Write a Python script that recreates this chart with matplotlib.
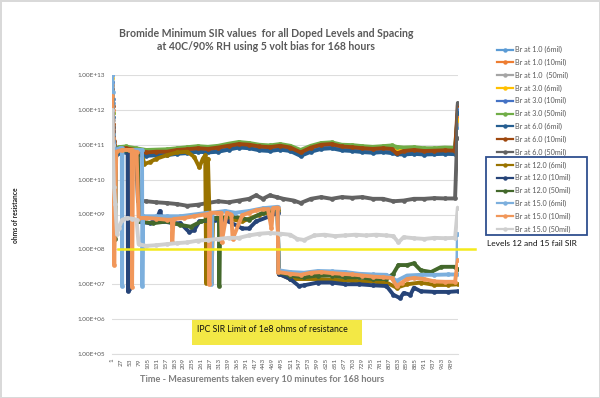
import numpy as np
import matplotlib
matplotlib.use("Agg")
import matplotlib.pyplot as plt
from matplotlib.patches import Rectangle
from matplotlib.lines import Line2D

plt.rcParams['font.family'] = ['Lato', 'DejaVu Sans']

# ---------------- data (log10 of ohms) ----------------
labels = ["Br at 1.0 (6mil)", "Br at 1.0 (10mil)", "Br at 1.0  (50mil)",
          "Br at 3.0 (6mil)", "Br at 3.0 (10mil)", "Br at 3.0 (50mil)",
          "Br at 6.0 (6mil)", "Br at 6.0 (10mil)", "Br at 6.0 (50mil)",
          "Br at 12.0 (6mil)", "Br at 12.0 (10mil)", "Br at 12.0 (50mil)",
          "Br at 15.0 (6mil)", "Br at 15.0 (10mil)", "Br at 15.0 (50mil)"]
colors = ['#5B9BD5', '#ED7D31', '#A5A5A5', '#FFC000', '#4472C4', '#70AD47',
          '#255E91', '#9E480E', '#636363', '#997300', '#264478', '#43682B',
          '#7CAFDD', '#F1975A', '#CFCFCF']

top_meas = [1, 2, 4, 7, 11, 20, 40, 70, 100, 130, 160, 190, 220, 250, 280, 310, 340, 370, 400, 430,
            460, 490, 520, 550, 580, 610, 640, 670, 700, 730, 760, 790, 815, 830, 850, 880, 910, 940,
            970, 1000, 1008]
br1_6 = [13.0, 12.2, 11.2, 10.9, 10.8, 10.82, 10.85, 10.8, 10.75, 10.76, 10.77, 10.8, 10.83, 10.86, 10.84,
         10.88, 10.92, 10.98, 10.96, 10.9, 10.88, 10.92, 10.88, 10.75, 10.88, 10.95, 10.97, 10.9, 10.88,
         10.85, 10.83, 10.85, 10.83, 10.8, 10.8, 10.8, 10.78, 10.79, 10.8, 10.79, 11.5]
br1_10 = [12.7, 12.0, 11.5, 11.0, 10.83, 10.85, 10.88, 10.83, 10.77, 10.78, 10.79, 10.83, 10.85, 10.88, 10.86,
          10.9, 10.95, 11.0, 10.98, 10.92, 10.9, 10.95, 10.9, 10.76, 10.9, 10.97, 11.0, 10.92, 10.9, 10.88,
          10.86, 10.88, 10.86, 10.82, 10.82, 10.83, 10.8, 10.81, 10.82, 10.81, 11.8]
br1_50 = [12.2, 11.7, 11.0, 10.9, 10.82, 10.84, 10.86, 10.82, 10.76, 10.78, 10.78, 10.82, 10.84, 10.87, 10.85,
          10.89, 10.94, 10.99, 10.97, 10.92, 10.9, 10.94, 10.89, 10.76, 10.89, 10.96, 10.99, 10.92, 10.9,
          10.87, 10.85, 10.87, 10.85, 10.82, 10.81, 10.82, 10.8, 10.8, 10.81, 10.8, 11.6]
br3_6 = [12.9, 11.9, 11.0, 10.95, 10.84, 10.86, 10.88, 10.84, 10.77, 10.79, 10.79, 10.84, 10.86, 10.89, 10.87,
         10.91, 10.96, 11.01, 10.99, 10.94, 10.92, 10.96, 10.91, 10.77, 10.91, 10.99, 11.01, 10.94, 10.92,
         10.89, 10.87, 10.89, 10.87, 10.83, 10.82, 10.84, 10.81, 10.82, 10.83, 10.82, 11.7]
br3_10 = [12.8, 12.3, 11.4, 10.9, 10.78, 10.8, 10.83, 10.78, 10.72, 10.73, 10.74, 10.78, 10.8, 10.84, 10.82,
          10.85, 10.9, 10.96, 10.94, 10.88, 10.86, 10.9, 10.86, 10.72, 10.85, 10.93, 10.95, 10.88, 10.86,
          10.83, 10.81, 10.83, 10.8, 10.76, 10.76, 10.77, 10.75, 10.76, 10.77, 10.76, 12.0]
br3_50 = [12.4, 11.9, 11.3, 10.95, 10.9, 10.93, 10.95, 10.9, 10.85, 10.86, 10.87, 10.9, 10.93, 10.96, 10.94,
          10.97, 11.03, 11.08, 11.05, 11.0, 10.98, 11.02, 10.97, 10.85, 10.97, 11.05, 11.07, 11.0, 10.99,
          10.96, 10.94, 10.96, 10.98, 10.94, 10.92, 10.93, 10.9, 10.9, 10.92, 10.91, 11.9]
br6_6 = [12.5, 11.8, 11.0, 10.8, 10.72, 10.75, 10.78, 10.73, 10.68, 10.7, 10.7, 10.74, 10.76, 10.8, 10.78,
         10.8, 10.86, 10.92, 10.9, 10.84, 10.82, 10.86, 10.82, 10.68, 10.8, 10.88, 10.9, 10.84, 10.82,
         10.79, 10.77, 10.79, 10.76, 10.73, 10.72, 10.74, 10.72, 10.73, 10.74, 10.73, 11.9]
br6_10 = [12.6, 12.1, 11.6, 11.1, 10.85, 10.88, 10.9, 10.85, 10.78, 10.8, 10.8, 10.85, 10.87, 10.9, 10.88,
          10.92, 10.97, 11.02, 11.0, 10.95, 10.93, 10.97, 10.92, 10.78, 10.92, 11.0, 11.02, 10.95, 10.93,
          10.9, 10.88, 10.9, 10.88, 10.75, 10.82, 10.85, 10.82, 10.83, 10.84, 10.83, 12.15]

br6_50_x = [1, 3, 8, 40, 70, 76, 100, 130, 160, 190, 220, 250, 280, 310, 340, 370, 400, 420, 440, 460,
            480, 500, 530, 550, 580, 610, 640, 670, 700, 730, 760, 790, 820, 850, 880, 910, 940, 970,
            1000, 1006, 1008]
br6_50 = [12.3, 11.5, 10.9, 10.85, 10.8, 9.4, 9.38, 9.35, 9.33, 9.3, 9.25, 9.28, 9.33, 9.38, 9.35, 9.4,
          9.45, 9.55, 9.45, 9.55, 9.5, 9.45, 9.4, 9.33, 9.45, 9.5, 9.45, 9.5, 9.48, 9.5, 9.45, 9.45, 9.38,
          9.4, 9.45, 9.45, 9.47, 9.46, 9.46, 11.2, 12.2]

br12_6_x = [1, 3, 8, 60, 85, 95, 110, 130, 160, 190, 220, 240, 255, 265, 272, 275, 280, 290, 295, 330,
            380, 430, 483, 486, 520, 600, 700, 800, 830, 860, 900, 940, 980, 1008]
br12_6 = [12.0, 11.0, 10.85, 10.85, 10.8, 10.45, 10.5, 10.6, 10.7, 10.78, 10.8, 10.65, 10.35, 10.6, 10.7,
          7.05, 10.6, 7.05, 8.9, 8.9, 8.8, 9.0, 9.1, 7.3, 7.15, 7.15, 7.1, 7.05, 6.9, 7.0, 7.05, 6.98,
          6.98, 7.0]

br12_10_x = [1, 3, 5, 12, 40, 46, 47, 50, 52, 75, 80, 110, 130, 140, 150, 180, 200, 225, 240, 255, 300,
             340, 380, 400, 420, 460, 483, 486, 520, 545, 560, 600, 640, 680, 720, 760, 800, 820, 840,
             850, 870, 880, 900, 940, 980, 1008]
br12_10 = [12.2, 10.5, 8.85, 10.8, 10.85, 10.85, 6.8, 6.85, 10.8, 10.8, 8.8, 8.75, 8.85, 9.1, 8.8, 8.75,
           8.75, 8.5, 8.55, 8.8, 8.85, 8.8, 8.6, 8.6, 8.8, 8.95, 9.05, 7.3, 7.15, 6.95, 6.97, 7.05, 7.05,
           7.0, 7.0, 6.97, 6.95, 6.7, 6.6, 6.75, 6.7, 6.9, 6.8, 6.78, 6.78, 6.8]

br12_50_x = [1, 3, 5, 10, 12, 60, 75, 80, 120, 160, 200, 230, 260, 300, 312, 313, 316, 350, 400, 440,
             483, 486, 520, 560, 600, 640, 680, 720, 760, 800, 820, 835, 860, 880, 900, 930, 960, 1000, 1008]
br12_50 = [12.3, 9.5, 8.85, 8.3, 10.8, 10.85, 10.8, 8.8, 8.75, 8.8, 8.7, 8.65, 8.8, 8.9, 8.9, 6.95, 8.9,
           8.95, 8.85, 9.05, 9.15, 7.35, 7.25, 7.2, 7.25, 7.25, 7.2, 7.2, 7.15, 7.15, 7.3, 7.55, 7.55,
           7.6, 7.4, 7.35, 7.5, 7.5, 7.45]

br15_6_x = [1, 2, 4, 8, 25, 29, 30, 31, 60, 88, 89, 91, 130, 160, 200, 240, 280, 289, 290, 293, 330,
            360, 400, 440, 483, 486, 520, 560, 600, 640, 680, 720, 760, 800, 830, 860, 900, 940, 980,
            1006, 1008]
br15_6 = [13.0, 12.5, 11.3, 10.85, 10.9, 10.9, 6.95, 10.85, 10.85, 10.85, 6.95, 8.95, 8.95, 8.95, 8.95,
          9.0, 9.05, 9.05, 7.0, 9.05, 9.1, 9.05, 9.1, 9.18, 9.22, 7.4, 7.35, 7.33, 7.38, 7.37, 7.35, 7.3,
          7.28, 7.27, 7.1, 7.25, 7.27, 7.27, 7.28, 7.28, 8.45]

br15_10_x = [1, 3, 7, 13, 30, 50, 58, 59, 62, 72, 78, 100, 130, 160, 175, 176, 180, 210, 240, 270, 283,
             284, 287, 305, 318, 320, 335, 348, 352, 380, 400, 420, 440, 455, 465, 470, 483, 485, 520,
             550, 580, 610, 640, 670, 700, 730, 760, 790, 815, 830, 845, 860, 880, 910, 940, 970, 1000, 1008]
br15_10 = [12.4, 11.2, 7.55, 10.8, 10.85, 10.85, 10.85, 6.93, 10.8, 10.8, 8.9, 8.9, 8.88, 8.85, 8.85, 8.2,
           8.87, 8.9, 8.95, 9.0, 9.02, 7.0, 9.05, 9.05, 9.05, 8.2, 9.05, 9.0, 8.3, 8.98, 9.05, 9.12, 9.15,
           9.15, 8.6, 9.18, 9.2, 7.35, 7.3, 7.27, 7.33, 7.35, 7.32, 7.3, 7.28, 7.25, 7.22, 7.2, 7.18, 6.95,
           7.05, 7.15, 7.18, 7.15, 7.08, 7.07, 7.07, 7.7]

br15_50_x = [1, 3, 6, 10, 15, 20, 30, 45, 60, 72, 78, 100, 130, 160, 190, 220, 250, 280, 310, 340, 370,
             400, 430, 460, 490, 520, 540, 560, 590, 620, 650, 680, 710, 740, 770, 800, 820, 835, 850,
             880, 910, 940, 970, 1000, 1008]
br15_50 = [12.0, 11.0, 9.8, 9.3, 8.45, 8.6, 8.85, 8.9, 8.88, 8.85, 8.15, 8.1, 8.12, 8.15, 8.18, 8.2, 8.25,
           8.27, 8.3, 8.33, 8.33, 8.4, 8.45, 8.47, 8.45, 8.42, 8.3, 8.27, 8.4, 8.42, 8.38, 8.4, 8.42, 8.4,
           8.42, 8.4, 8.38, 8.2, 8.35, 8.32, 8.3, 8.33, 8.32, 8.33, 9.2]

series = [(top_meas, br1_6), (top_meas, br1_10), (top_meas, br1_50),
          (top_meas, br3_6), (top_meas, br3_10), (top_meas, br3_50),
          (top_meas, br6_6), (top_meas, br6_10), (br6_50_x, br6_50),
          (br12_6_x, br12_6), (br12_10_x, br12_10), (br12_50_x, br12_50),
          (br15_6_x, br15_6), (br15_10_x, br15_10), (br15_50_x, br15_50)]

x_ticks = list(range(1, 990, 26))
y_decades = list(range(5, 14))
ipc_limit = 1e8

# ---------------- figure ----------------
W, H = 600, 398
fig = plt.figure(figsize=(W / 100, H / 100), dpi=100)
fig.patch.set_facecolor('white')
fig.patch.set_edgecolor('#D9D9D9')
fig.patch.set_linewidth(2)

def fx(px):
    return px / W

def fy(py):
    return 1 - py / H

ax = fig.add_axes([fx(112), fy(354), (458 - 112) / W, (354 - 75) / H])
ax.set_yscale('log')
ax.set_ylim(1e5, 1e13)
ax.set_xlim(0.5, 1008.5)

handles = []
for (xs, ys), lab, col in zip(series, labels, colors):
    ax.plot(xs, 10 ** np.array(ys), color=col, lw=2.8, marker='o', ms=3.4,
            markeredgewidth=0, label=lab, solid_joinstyle='round', solid_capstyle='round', zorder=3)
    handles.append(Line2D([], [], color=col, lw=1.6, marker='o', ms=3.2, markeredgewidth=0))

# IPC limit line
ax.plot([0.017, 1.05], [ipc_limit, ipc_limit], transform=ax.get_yaxis_transform(),
        color='#F4EA1C', lw=1.8, clip_on=False, zorder=4)

# grid & axes styling
ax.set_yticks([10.0 ** e for e in y_decades])
ax.set_yticklabels([f"1.00E+{e:02d}" for e in y_decades])
ax.yaxis.set_minor_locator(matplotlib.ticker.NullLocator())
ax.grid(axis='y', color='#DDDDDD', lw=0.8, zorder=0)
ax.set_axisbelow(True)
for s in ['top', 'right', 'left']:
    ax.spines[s].set_visible(False)
ax.spines['bottom'].set_color('#DDDDDD')
ax.spines['bottom'].set_linewidth(0.8)
ax.tick_params(axis='y', length=0, pad=5, labelsize=4.6, labelcolor='#595959')
ax.set_xticks(x_ticks)
ax.set_xticklabels([str(v) for v in x_ticks], rotation=90)
ax.tick_params(axis='x', length=0, pad=3, labelsize=4.6, labelcolor='#595959')

# texts
fig.text(fx(266), fy(40), "Bromide Minimum SIR values  for all Doped Levels and Spacing\n"
         "at 40C/90% RH using 5 volt bias for 168 hours",
         ha='center', va='center', fontsize=7.6, fontweight='bold', color='#595959', linespacing=1.3)
fig.text(fx(262), fy(380), "Time - Measurements taken every 10 minutes for 168 hours",
         ha='center', va='center', fontsize=6.6, fontweight='bold', color='#7F7F7F')
fig.text(fx(16), fy(215), "ohms of resistance", rotation=90, ha='center', va='center',
         fontsize=4.8, fontweight='bold', color='#222222')

# yellow annotation box
fig.patches.append(Rectangle((fx(192), fy(345)), (362 - 192) / W, (345 - 320) / H,
                             transform=fig.transFigure, facecolor='#F3E845', edgecolor='none', zorder=5))
fig.text(fx(197), fy(329), "IPC SIR Limit of 1e8 ohms of resistance", ha='left', va='center',
         fontsize=6.3, color='#111111', zorder=6)

# legend
leg = fig.legend(handles, labels, loc='upper left', bbox_to_anchor=(fx(497), fy(46)),
                 frameon=False, fontsize=5.2, labelspacing=0.78, handlelength=2.2,
                 handletextpad=0.35, borderpad=0, borderaxespad=0)
for t in leg.get_texts():
    t.set_color('#595959')

fig.patches.append(Rectangle((fx(486), fy(235)), (587 - 486) / W, (235 - 157) / H,
                             transform=fig.transFigure, facecolor='none', edgecolor='#2F4F8F',
                             lw=1.3, zorder=5))
fig.text(fx(487), fy(243), "Levels 12 and 15 fail SIR", ha='left', va='center',
         fontsize=6.0, color='#111111')

fig.savefig("out.png", dpi=100)
